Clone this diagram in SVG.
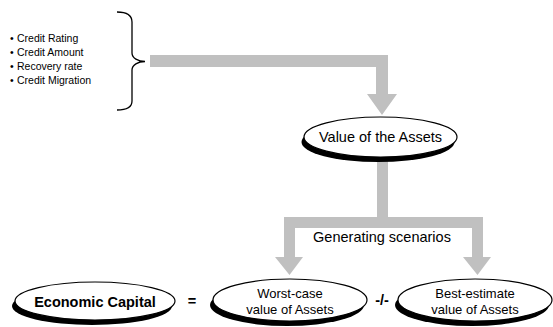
<svg xmlns="http://www.w3.org/2000/svg" width="553" height="327" viewBox="0 0 553 327">
  <style>
    .lbl { font-family: "Liberation Sans", Arial, sans-serif; fill: #000; }
    .big { font-size: 14.5px; }
    .mid { font-size: 13px; }
    .small { font-size: 10.5px; }
    .bold { font-weight: bold; }
    .flow { fill: #C0C0C0; stroke: none; }
    .oval { fill: #fff; stroke: #000; stroke-width: 1.2; }
    .shade { fill: #000; }
    .brace { fill: none; stroke: #000; stroke-width: 1.3; }
  </style>

  <!-- input factors -->
  <g id="factors">
    <text class="lbl small"><tspan x="10" y="41.5">•</tspan><tspan x="17" y="41.5">Credit Rating</tspan></text>
    <text class="lbl small"><tspan x="10" y="55.5">•</tspan><tspan x="17" y="55.5">Credit Amount</tspan></text>
    <text class="lbl small"><tspan x="10" y="69.5">•</tspan><tspan x="17" y="69.5">Recovery rate</tspan></text>
    <text class="lbl small"><tspan x="10" y="83.5">•</tspan><tspan x="17" y="83.5">Credit Migration</tspan></text>
    <path class="brace" d="M117,12 C127,12 132,15 132,22 L132,53 C132,58 138,61.5 145,61.5 C138,61.5 132,65 132,70 L132,101 C132,107 127,110 117,110"/>
  </g>

  <!-- connectors -->
  <g id="connectors">
    <!-- factors to asset value -->
    <polygon class="flow" points="150,55 388,55 388,94 397,94 382,115 367,94 376,94 376,67 150,67"/>
    <!-- asset value splitting into scenarios -->
    <rect class="flow" x="377" y="156" width="11" height="62"/>
    <rect class="flow" x="284" y="217" width="199" height="11"/>
    <polygon class="flow" points="284,228 295,228 295,257 303,257 289.5,275 275,257 284,257"/>
    <polygon class="flow" points="472,228 483,228 483,257 491,257 477.5,275 463,257 472,257"/>
  </g>

  <g id="asset-value">
    <ellipse class="shade" cx="378" cy="142" rx="76.5" ry="20"/>
    <ellipse class="oval" cx="380.5" cy="137" rx="76.5" ry="20"/>
    <text class="lbl big" x="380.5" y="142" text-anchor="middle">Value of the Assets</text>
  </g>

  <text id="scenarios-label" class="lbl big" x="382" y="242" text-anchor="middle">Generating scenarios</text>

  <g id="economic-capital">
    <ellipse class="shade" cx="92" cy="306" rx="80" ry="19"/>
    <ellipse class="oval" cx="95" cy="301" rx="80" ry="19"/>
    <text class="lbl big bold" x="95" y="307" text-anchor="middle">Economic Capital</text>
  </g>

  <text id="equals" class="lbl big bold" x="192" y="306" text-anchor="middle">=</text>

  <g id="worst-case">
    <ellipse class="shade" cx="287" cy="305" rx="77" ry="21"/>
    <ellipse class="oval" cx="290" cy="300" rx="77" ry="21"/>
    <text class="lbl mid" text-anchor="middle"><tspan x="290" y="298">Worst-case</tspan><tspan x="290" y="314">value of Assets</tspan></text>
  </g>

  <text id="minus" class="lbl big bold" x="382" y="305" text-anchor="middle">-/-</text>

  <g id="best-estimate">
    <ellipse class="shade" cx="472" cy="305" rx="77" ry="21"/>
    <ellipse class="oval" cx="475" cy="300" rx="77" ry="21"/>
    <text class="lbl mid" text-anchor="middle"><tspan x="475" y="298">Best-estimate</tspan><tspan x="475" y="314">value of Assets</tspan></text>
  </g>
</svg>
